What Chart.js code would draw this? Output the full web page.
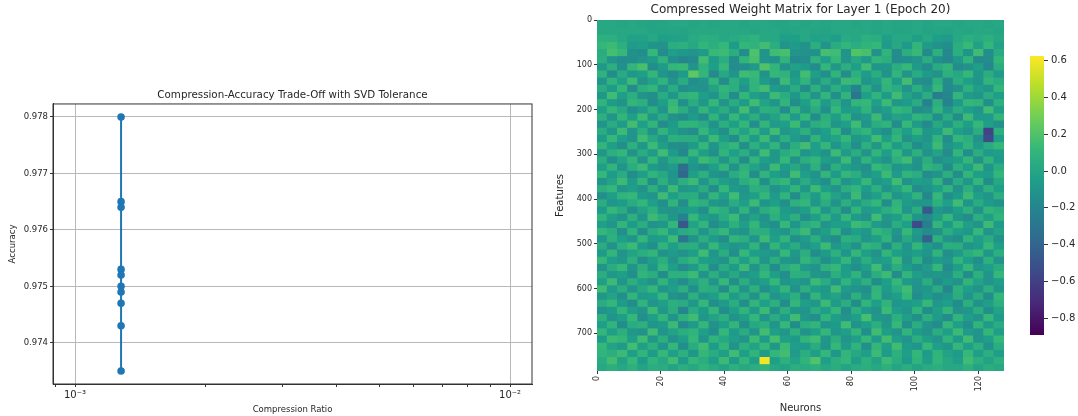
<!DOCTYPE html>
<html>
<head>
<meta charset="utf-8">
<title>Compression and weight matrix</title>
<script src="https://cdn.jsdelivr.net/npm/chart.js@4"></script>
<style>
  html, body { margin: 0; padding: 0; background: #fff; overflow: hidden; }
  .box { position: absolute; }
  canvas { filter: blur(0.4px); }
  #tradeoffBox { left: 0; top: 84px; width: 540px; height: 332px; }
  #matrixBox { left: 550px; top: 0; width: 470px; height: 416px; }
  #cbarBox { left: 1010px; top: 40px; width: 68px; height: 310px; }
</style>
</head>
<body>
<div class="box" id="tradeoffBox"><canvas id="tradeoffChart"></canvas></div>
<div class="box" id="matrixBox"><canvas id="matrixChart"></canvas></div>
<div class="box" id="cbarBox"><canvas id="cbarChart"></canvas></div>
<script>
// trade-off plot
var compressionRatios = [0.001276, 0.001276, 0.001276, 0.001276, 0.001276, 0.001276, 0.001276, 0.001276, 0.001276, 0.001276];
var accuracies = [0.978, 0.9765, 0.9764, 0.9753, 0.9752, 0.975, 0.9749, 0.9747, 0.9743, 0.9735];
var accuracyTicks = [0.974, 0.975, 0.976, 0.977, 0.978];
var ratioTicks = [0.0009, 0.001, 0.002, 0.003, 0.004, 0.005, 0.006, 0.007, 0.008, 0.009, 0.01];
var ratioMajorLabels = { 0.001: "10⁻³", 0.01: "10⁻²" };

// weight matrix, read by eye as blocks of 16 features x 3.2 neurons (the real 784x128 cells can't be read one by one)
// values are in hundredths
var featureBlock = 16;
var neuronBlock = 3.2;
var neuronCount = 128;
var featureCount = 784;
var featureTicks = [0, 100, 200, 300, 400, 500, 600, 700];
var neuronTicks = [0, 20, 40, 60, 80, 100, 120];
var cbarTicks = [-0.8, -0.6, -0.4, -0.2, 0, 0.2, 0.4, 0.6];
var weightRows = [
  [1,1,0,1,0,-1,0,1,1,0,1,0,1,1,0,1,1,0,0,1,0,1,0,1,1,0,1,0,1,0,0,1,0,1,1,0,1,1,0,1],
  [2,2,1,2,1,-1,-1,0,-1,1,2,1,2,1,1,0,2,1,-1,0,1,0,-1,1,1,2,1,0,1,-1,0,1,-1,0,-1,1,0,2,1,0],
  [7,6,2,-3,-3,1,-4,-3,-2,3,6,5,1,3,6,8,2,2,-5,-4,2,-3,-2,-5,3,1,7,5,-4,1,2,-4,2,-4,-7,1,6,3,7,2],
  [11,14,6,-7,-4,-10,-12,5,7,2,10,6,12,-6,11,8,16,5,-10,-7,-12,6,-10,4,10,5,9,12,-7,2,-8,10,-6,-12,-14,5,13,-3,11,-2],
  [4,17,12,-13,-15,12,-16,-5,-8,-11,-6,13,14,5,-15,19,-10,15,18,-11,-12,-13,17,15,-11,21,18,-12,9,-16,5,13,-17,7,-18,6,-10,15,-14,4],
  [6,-10,-16,-14,-11,-6,8,-14,-19,-17,16,-6,5,-15,9,18,-11,-13,9,-17,-15,8,-5,12,-11,2,-8,10,6,-16,-14,-11,5,-14,-19,-8,9,-17,-15,11],
  [-8,6,-13,10,18,-15,-7,11,13,-11,8,-4,12,-16,-14,-8,20,10,-12,-3,-6,-16,11,-9,6,-5,15,-10,-9,5,12,-6,-15,3,9,-16,-12,-4,-18,5],
  [8,-15,3,-9,-5,11,-11,-16,-6,24,11,-17,1,-11,15,13,-12,12,8,-9,16,-4,-14,9,-16,7,-6,5,-12,10,-11,4,-6,-12,7,2,12,-9,5,-7],
  [-11,9,-5,14,-12,-3,9,-10,4,-14,-11,10,-16,6,-4,10,-6,-15,14,-5,9,-12,4,-9,14,12,-11,-4,11,-6,16,-14,-16,7,-16,5,-4,-10,9,4],
  [4,-6,11,-16,6,10,-11,4,-14,-10,-12,-2,10,6,-11,9,16,-6,-9,4,-16,7,-10,6,-5,-20,6,-12,9,4,-11,6,-9,12,-17,-12,7,-4,-9,11],
  [-9,15,-4,6,-11,-14,4,-9,8,11,-5,-11,7,-15,11,-4,-10,14,5,-9,6,-11,10,-14,9,-30,-4,9,-6,15,-2,-10,5,-25,-19,10,-7,-11,4,-5],
  [9,-6,-12,10,7,-15,-5,12,-14,4,-9,12,-11,4,-6,15,-2,-10,9,-15,-4,11,-7,5,-11,10,12,-5,14,-9,-7,4,-22,6,-21,-7,11,9,-14,7],
  [-5,11,2,-14,-7,6,-11,15,5,-11,10,-4,5,-9,16,-10,7,5,-16,10,-9,4,-14,12,-6,-4,9,-11,-5,11,7,-15,-12,10,-9,5,-5,-10,15,-4],
  [7,-11,10,-4,14,-9,4,-12,-15,-6,-15,9,-11,12,-5,6,-11,-2,11,-7,12,-15,6,-4,10,-12,-7,14,-10,-2,-5,9,6,-14,4,-15,14,-6,-7,10],
  [-10,4,-6,16,-5,10,-16,-6,9,9,4,-12,6,-4,11,-14,10,-7,-5,14,-10,5,9,-11,-4,15,-10,5,9,-16,12,-6,-17,2,-9,7,-4,12,-5,-12],
  [4,-9,14,-10,6,-12,9,-4,-12,-16,11,-5,-14,9,-2,12,-7,15,-9,-4,7,-11,-5,12,-15,4,10,-7,-14,6,-5,11,-9,-6,14,-4,-10,5,-58,7],
  [-6,12,-5,-11,15,2,-11,7,5,5,-9,14,-4,-15,10,-6,14,-11,6,-7,-14,9,-6,-2,11,-9,-5,15,-4,10,-12,-4,-11,9,-16,11,6,-12,-55,-5],
  [10,-4,-14,7,-9,14,-4,-14,-16,-7,12,-10,5,11,-14,7,-4,10,-12,5,16,-5,11,-10,2,-14,7,-9,11,-6,4,-15,-6,14,-11,-5,9,-7,4,12],
  [-9,6,11,-12,4,-7,15,-6,-18,12,-4,-14,9,-5,6,-11,15,-9,4,11,-10,-4,-12,14,-7,5,-11,10,-5,12,-9,7,-12,-2,-16,10,-14,5,-7,-4],
  [5,-14,-2,10,-12,11,-9,4,7,-6,14,7,-11,6,-16,10,-5,-9,12,-12,6,10,-4,-9,14,-11,9,-4,-12,7,15,-10,5,-14,-7,-4,11,-12,9,-6],
  [-4,9,-11,5,14,-6,-12,-7,-34,-10,-15,-4,10,-12,7,-2,-11,14,-6,2,-11,7,-15,6,-4,-9,-14,12,6,-10,-6,-12,9,4,-15,7,-5,14,-10,5],
  [12,-7,4,-15,-5,9,2,-11,-38,-4,7,-10,-14,4,11,-15,9,-4,-10,15,-5,-12,10,-7,11,5,-10,-4,14,-7,9,5,-16,-11,6,-14,10,-4,-6,11],
  [-10,-2,14,-6,10,-15,7,-9,6,14,-11,6,-4,-10,5,12,-14,6,11,-9,4,-7,-14,9,-11,-5,12,-9,-5,15,-12,-4,-7,10,-17,4,-9,11,-15,2],
  [6,11,-9,-4,-12,6,-10,14,-9,-7,4,-15,12,-6,-11,7,4,-12,-5,10,-9,14,-4,-11,5,10,-6,7,-11,-2,11,-15,-10,-5,9,-12,6,-10,7,-4],
  [-14,-5,9,12,-7,-11,15,-4,4,5,-12,10,-5,15,-9,-4,11,-7,9,-15,5,-6,11,-2,-10,14,-12,-5,10,-11,-4,9,-19,12,-14,-6,14,-4,-11,6],
  [5,-10,-6,4,11,-4,-14,9,-15,10,7,-9,-12,4,-5,14,-10,-4,-14,7,11,-9,5,-12,6,-7,4,11,-15,9,-6,-11,-9,7,-5,15,-10,4,-6,-12],
  [-7,12,4,-14,-2,7,-9,-11,-6,-4,-14,11,6,-10,9,-12,5,10,-6,-11,-4,12,-10,4,-15,10,-7,-4,6,12,-11,5,-46,-9,-14,-4,7,-12,10,5],
  [9,-4,-12,7,-10,14,4,-9,-22,12,-5,-9,4,14,-11,-2,-12,7,-4,6,-14,-5,9,-7,11,-6,-12,15,-9,-4,10,-10,-17,-4,12,-9,-15,6,-4,9],
  [-5,-11,10,-6,5,-12,-9,11,-48,-2,10,-15,-6,7,-4,11,-9,-14,12,-10,4,9,-11,-5,-4,14,9,-7,-12,5,-4,-54,-24,10,-6,11,-5,-11,14,-7],
  [11,5,-14,9,-15,4,12,-6,3,7,-11,4,12,-9,-12,6,5,-6,-11,4,14,-12,-4,10,-14,-5,-9,11,5,-10,12,-6,-15,-12,5,-4,-9,12,-10,-2],
  [-9,7,-4,-10,11,-6,-5,14,-30,-12,5,-7,-15,10,6,-11,14,-4,9,-14,-7,6,-11,-15,7,4,-11,-4,9,-14,2,-10,-42,7,-11,-15,9,-5,4,-12],
  [4,-12,6,14,-7,-14,9,-4,5,6,-9,12,-4,-10,-7,9,-14,10,-5,4,-11,-4,14,-9,-2,-12,10,6,-15,7,-10,11,-6,-14,6,5,-11,-6,12,-4],
  [-6,10,-11,-2,5,10,-12,-7,-12,-5,15,-10,5,-14,12,-4,-7,-11,12,-9,6,-15,-6,7,-10,11,-5,-12,10,-4,-9,-5,-10,9,-14,-7,5,11,-9,6],
  [12,-5,-9,7,-15,-4,6,-11,4,11,-4,-6,-12,9,-5,10,-10,5,-9,-12,10,2,-14,-4,11,-9,6,-7,-4,14,-12,7,-15,-6,-10,9,-4,-14,7,-11],
  [-11,4,12,-10,6,-9,11,-4,-16,-7,9,-14,4,-6,14,-11,6,-15,4,10,-7,-11,7,12,-6,-14,-4,15,-10,5,-6,-14,-7,11,-17,-4,12,-9,-5,4],
  [5,-9,-4,-14,10,5,-15,7,7,14,-11,6,-9,2,-10,-5,11,-4,-14,7,5,-9,-12,6,-4,9,-12,5,14,-16,10,-4,-11,-9,-12,6,-15,7,-10,12],
  [-4,14,-10,6,-5,-12,9,-7,-16,-2,7,-11,12,-14,5,-9,-4,12,-10,-6,-11,14,4,-10,9,-5,7,-15,-4,12,-7,-10,5,-15,-6,-12,9,-2,-11,-5],
  [15,-7,5,-11,2,11,-10,-5,6,-14,6,4,-15,9,-11,7,-14,-4,10,-12,6,-5,-9,15,-7,-11,-14,9,-6,4,15,-12,-9,4,-19,7,-5,-10,6,-9],
  [-9,-2,-14,10,-7,-4,12,-12,-15,7,-10,-5,11,-6,4,-12,9,-11,-4,6,-15,10,-6,-2,-12,7,-9,11,-11,-5,12,-15,-6,-14,-9,5,-11,4,-15,11],
  [4,11,-6,-15,9,-10,-4,6,4,-9,12,-14,-7,5,-14,10,-5,7,-16,11,-4,-9,14,-7,5,-15,10,-4,9,-10,-6,-4,12,-9,-5,-15,6,-12,-4,7],
  [-12,-6,10,-4,-11,14,-9,5,-19,4,-6,11,-15,-4,9,-7,14,-12,6,-9,-11,4,-5,11,-14,6,-7,-12,14,-5,-11,9,-15,-4,10,-12,-9,5,-14,-2],
  [7,-11,-4,12,-14,-5,10,-10,7,15,-9,-2,6,-12,-4,11,-10,4,-6,15,-9,-14,9,-4,-10,-5,17,-9,-11,7,-4,-14,6,-7,-16,9,-5,-11,12,-6],
  [-5,9,-15,4,7,-10,-6,14,-17,-7,11,-12,-4,10,-14,2,6,-11,12,-15,5,10,-11,-6,15,-12,-4,6,-9,12,-14,5,-10,-15,11,-4,-14,9,-6,4],
  [11,-4,6,-9,-12,15,-11,-2,5,9,-5,-14,12,-7,4,-10,16,-5,-9,7,-12,-4,11,-9,-5,10,-14,15,-4,-11,9,-6,-12,5,-4,14,-7,-11,11,-5],
  [-6,14,11,-5,15,-9,6,-12,-4,12,-10,9,2,-5,-11,14,-7,17,-4,-6,10,15,-9,5,-11,-4,12,-7,16,-5,-10,6,-4,-11,9,-6,15,-10,-4,12],
  [12,-2,-7,16,-4,7,-10,11,-14,4,15,-6,10,-12,7,-2,12,-9,14,-5,-7,4,-11,12,-6,9,-14,11,-4,15,-6,-10,12,-5,-9,11,-4,7,-12,5],
  [9,6,14,-4,10,-6,12,-5,7,-9,11,4,-5,15,-4,9,-6,11,16,-7,5,-4,12,-9,10,2,-5,14,-7,7,-4,11,-6,9,-2,-7,12,-4,6,-5],
  [4,16,-2,12,-6,9,2,15,-7,11,5,-4,14,-6,10,-5,60,-4,7,-2,9,20,-5,6,11,-4,7,-2,14,5,-6,9,-4,10,2,-5,15,6,-2,7],
  [2,6,1,7,-1,5,4,-2,6,1,9,4,-1,7,2,5,9,1,-2,6,4,7,1,5,-1,4,6,2,7,0,5,-1,4,6,1,2,7,-1,5,2]
];

Chart.defaults.font.family = "'DejaVu Sans', sans-serif";
Chart.defaults.color = "#262626";
Chart.defaults.animation = false;

var inkColor = "#333333";
var gridColor = "#b8b8b8";

// viridis, low to high
var viridis = ["#440154", "#482878", "#3e4989", "#31688e", "#26828e", "#1f9e89", "#35b779", "#6ece58", "#b5de2b", "#fde725"];
var cbarMin = -0.892;
var cbarMax = 0.626;

function hexToRgb(hex) {
  return [1, 3, 5].map(function(i) { return parseInt(hex.substr(i, 2), 16); });
}

function weightColor(value) {
  var t = Math.min(1, Math.max(0, (value - cbarMin) / (cbarMax - cbarMin))) * (viridis.length - 1);
  var i = Math.min(viridis.length - 2, Math.floor(t));
  var a = hexToRgb(viridis[i]);
  var b = hexToRgb(viridis[i + 1]);
  var f = t - i;
  return "rgb(" + [0, 1, 2].map(function(k) { return Math.round(a[k] + (b[k] - a[k]) * f); }).join(",") + ")";
}

// matplotlib style box round the plot
var boxPlugin = {
  id: "box",
  afterDraw: function(chart) {
    var a = chart.chartArea;
    var c = chart.ctx;
    c.save();
    c.strokeStyle = inkColor;
    c.lineWidth = 1;
    c.strokeRect(a.left, a.top, a.right - a.left, a.bottom - a.top);
    c.restore();
  }
};

// hides the hairlines between the blocks
var matrixBackPlugin = {
  id: "matrixBack",
  beforeDatasetsDraw: function(chart) {
    var a = chart.chartArea;
    chart.ctx.save();
    chart.ctx.fillStyle = weightColor(0);
    chart.ctx.fillRect(a.left, a.top, a.right - a.left, a.bottom - a.top);
    chart.ctx.restore();
  }
};

// compression / accuracy
var tradeoffPoints = compressionRatios.map(function(r, i) { return { x: r, y: accuracies[i] }; });

new Chart(document.getElementById("tradeoffChart"), {
  type: "line",
  data: {
    datasets: [{
      data: tradeoffPoints,
      borderColor: "#1f77b4",
      backgroundColor: "#1f77b4",
      borderWidth: 2,
      pointRadius: 2.8,
      pointHoverRadius: 2.8,
      tension: 0
    }]
  },
  plugins: [boxPlugin],
  options: {
    responsive: true,
    maintainAspectRatio: false,
    layout: { padding: { right: 8 } },
    plugins: {
      legend: { display: false },
      tooltip: { enabled: false },
      title: {
        display: true,
        fullSize: false,
        text: "Compression-Accuracy Trade-Off with SVD Tolerance",
        font: { size: 10.3, weight: "normal" },
        padding: { top: 5, bottom: 2.6 }
      }
    },
    scales: {
      x: {
        type: "logarithmic",
        min: 0.00089,
        max: 0.01123,
        afterBuildTicks: function(scale) {
          scale.ticks = ratioTicks.map(function(v) { return { value: v, major: v in ratioMajorLabels }; });
        },
        afterFit: function(scale) { scale.height = 32; },
        border: { color: inkColor },
        grid: {
          color: function(c) { return c.tick && c.tick.major ? gridColor : "rgba(0,0,0,0)"; },
          tickColor: inkColor,
          tickLength: 3
        },
        ticks: {
          autoSkip: false,
          maxRotation: 0,
          padding: 2,
          font: { size: 10 },
          callback: function(v) { return ratioMajorLabels[v] || ""; }
        },
        title: { display: true, text: "Compression Ratio", font: { size: 8.5 }, padding: { top: 0, bottom: 1 } }
      },
      y: {
        min: 0.97327,
        max: 0.97823,
        afterBuildTicks: function(scale) {
          scale.ticks = accuracyTicks.map(function(v) { return { value: v }; });
        },
        afterFit: function(scale) { scale.width = 53; },
        border: { color: inkColor },
        grid: { color: gridColor, tickColor: inkColor, tickLength: 3 },
        ticks: {
          padding: 2,
          font: { size: 8.5 },
          callback: function(v) { return v.toFixed(3); }
        },
        title: { display: true, text: "Accuracy", font: { size: 8.5 }, padding: { top: 8, bottom: 0 } }
      }
    }
  }
});

// weight matrix as floating bars, one dataset per block row
var matrixDatasets = weightRows.map(function(row, r) {
  return {
    data: row.map(function(v, c) {
      return { x: (c + 0.5) * neuronBlock, y: [r * featureBlock, (r + 1) * featureBlock] };
    }),
    backgroundColor: row.map(function(v) { return weightColor(v / 100); }),
    borderWidth: 0,
    categoryPercentage: 1,
    barPercentage: 1,
    grouped: false
  };
});

new Chart(document.getElementById("matrixChart"), {
  type: "bar",
  data: { datasets: matrixDatasets },
  plugins: [matrixBackPlugin],
  options: {
    responsive: true,
    maintainAspectRatio: false,
    layout: { padding: { right: 16 } },
    plugins: {
      legend: { display: false },
      tooltip: { enabled: false },
      title: {
        display: true,
        fullSize: false,
        text: "Compressed Weight Matrix for Layer 1 (Epoch 20)",
        font: { size: 12, weight: "normal" },
        padding: { top: 3, bottom: 2.6 }
      }
    },
    scales: {
      x: {
        type: "linear",
        offset: false,
        min: 0,
        max: neuronCount,
        afterBuildTicks: function(scale) {
          scale.ticks = neuronTicks.map(function(v) { return { value: v }; });
        },
        afterFit: function(scale) { scale.height = 45; },
        border: { display: false },
        grid: { offset: false, drawOnChartArea: false, tickColor: inkColor, tickLength: 3 },
        ticks: { autoSkip: false, minRotation: 90, maxRotation: 90, padding: 2, font: { size: 8 } },
        title: { display: true, text: "Neurons", font: { size: 10 }, padding: { top: 0, bottom: 2 } }
      },
      y: {
        type: "linear",
        reverse: true,
        min: 0,
        max: featureCount,
        afterBuildTicks: function(scale) {
          scale.ticks = featureTicks.map(function(v) { return { value: v }; });
        },
        afterFit: function(scale) { scale.width = 47; },
        border: { display: false },
        grid: { drawOnChartArea: false, tickColor: inkColor, tickLength: 3 },
        ticks: { autoSkip: false, padding: 2, font: { size: 8 } },
        title: { display: true, text: "Features", font: { size: 10 }, padding: { top: 4, bottom: 0 } }
      }
    }
  }
});

// colour bar, one floating bar filled with the colour ramp
new Chart(document.getElementById("cbarChart"), {
  type: "bar",
  data: {
    labels: ["weight"],
    datasets: [{
      data: [[cbarMin, cbarMax]],
      borderWidth: 0,
      categoryPercentage: 1,
      barPercentage: 1,
      backgroundColor: function(c) {
        var a = c.chart.chartArea;
        if (!a) return viridis[5];
        var g = c.chart.ctx.createLinearGradient(0, a.bottom, 0, a.top);
        viridis.forEach(function(col, i) { g.addColorStop(i / (viridis.length - 1), col); });
        return g;
      }
    }]
  },
  options: {
    responsive: true,
    maintainAspectRatio: false,
    layout: { padding: { left: 20, top: 16, bottom: 15 } },
    plugins: { legend: { display: false }, tooltip: { enabled: false } },
    scales: {
      x: { display: false },
      y: {
        position: "right",
        min: cbarMin,
        max: cbarMax,
        afterBuildTicks: function(scale) {
          scale.ticks = cbarTicks.map(function(v) { return { value: v }; });
        },
        afterFit: function(scale) { scale.width = 34; },
        border: { display: false },
        grid: { drawOnChartArea: false, tickColor: inkColor, tickLength: 4 },
        ticks: {
          autoSkip: false,
          padding: 3,
          font: { size: 10 },
          callback: function(v) { return v.toFixed(1).replace("-", "−"); }
        }
      }
    }
  }
});
</script>
</body>
</html>
